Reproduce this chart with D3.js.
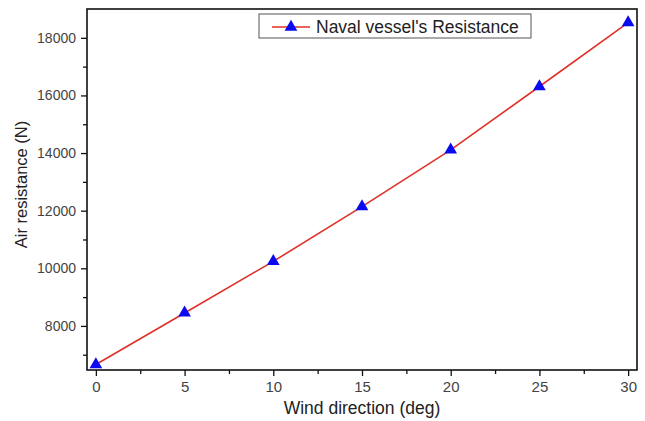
<!DOCTYPE html>
<html>
<head>
<meta charset="utf-8">
<script src="https://cdn.jsdelivr.net/npm/d3@7"></script>
<style>
  body { margin: 0; background: #fff; }
  text { font-family: "Liberation Sans", Arial, sans-serif; }
</style>
</head>
<body>
<svg width="645" height="421"></svg>
<script>
// wind direction (deg) and resistance (N)
const windDirection = [0, 5, 10, 15, 20, 25, 30];
const airResistance = [6660, 8450, 10240, 12140, 14110, 16310, 18530];
const xTicks = [0, 5, 10, 15, 20, 25, 30];
const yTicks = [8000, 10000, 12000, 14000, 16000, 18000];
const seriesName = "Naval vessel's Resistance";

const svg = d3.select('svg');
const margin = { top: 9, right: 8, bottom: 51, left: 87 };
const width = +svg.attr('width');
const height = +svg.attr('height');
const innerWidth = width - margin.left - margin.right;
const innerHeight = height - margin.top - margin.bottom;

const data = windDirection.map((d, i) => ({ x: d, y: airResistance[i] }));

const xScale = d3.scaleLinear().domain([-0.5, 30.5]).range([0, innerWidth]);
const yScale = d3.scaleLinear().domain([6470, 19000]).range([innerHeight, 0]);

const g = svg.append('g')
    .attr('transform', `translate(${margin.left},${margin.top})`);

// minor ticks (no labels)
const xMinor = d3.axisBottom(xScale).tickValues(d3.range(2.5, 30, 5)).tickSize(4);
const yMinor = d3.axisLeft(yScale).tickValues(d3.range(7000, 19000, 2000)).tickSize(4);
g.append('g').attr('transform', `translate(0,${innerHeight})`).call(xMinor)
    .selectAll('text').remove();
g.append('g').call(yMinor).selectAll('text').remove();

const xAxis = d3.axisBottom(xScale).tickValues(xTicks).tickSize(6).tickPadding(5);
const yAxis = d3.axisLeft(yScale).tickValues(yTicks).tickSize(6).tickPadding(5)
    .tickFormat(d3.format('d'));

g.append('g').attr('class', 'x-axis')
    .attr('transform', `translate(0,${innerHeight})`).call(xAxis)
    .selectAll('text').style('font-size', '15px');
g.append('g').attr('class', 'y-axis').call(yAxis)
    .selectAll('text').style('font-size', '14px');

g.selectAll('.domain').remove();
g.selectAll('.tick line').attr('stroke', '#111').attr('stroke-width', 1.3);
g.selectAll('.tick text').attr('fill', '#444');

// frame
g.append('rect')
    .attr('width', innerWidth).attr('height', innerHeight)
    .attr('fill', 'none').attr('stroke', '#111').attr('stroke-width', 1.6);

// series
const line = d3.line().x(d => xScale(d.x)).y(d => yScale(d.y));
g.append('path').datum(data)
    .attr('fill', 'none').attr('stroke', '#e0302a').attr('stroke-width', 1.6)
    .attr('d', line);

const tri = d3.symbol().type(d3.symbolTriangle).size(70);
g.selectAll('.pt').data(data).enter().append('path')
    .attr('class', 'pt')
    .attr('transform', d => `translate(${xScale(d.x)},${yScale(d.y)})`)
    .attr('d', tri)
    .attr('fill', '#0a0af0');

// legend
const lg = svg.append('g').attr('transform', 'translate(259,14)');
lg.append('rect').attr('width', 272).attr('height', 24)
    .attr('fill', '#fff').attr('stroke', '#555').attr('stroke-width', 1);
lg.append('line').attr('x1', 13).attr('x2', 51).attr('y1', 13).attr('y2', 13)
    .attr('stroke', '#e0302a').attr('stroke-width', 1.6);
lg.append('path').attr('transform', 'translate(32,13)').attr('d', tri).attr('fill', '#0a0af0');
lg.append('text').attr('x', 57).attr('y', 19)
    .style('font-size', '17.5px').attr('fill', '#222').text(seriesName);

// axis titles
svg.append('text')
    .attr('x', margin.left + xScale(15)).attr('y', 414)
    .attr('text-anchor', 'middle').style('font-size', '17.5px').attr('fill', '#222')
    .text('Wind direction (deg)');

svg.append('text')
    .attr('transform', `translate(27,${margin.top + innerHeight / 2 - 5}) rotate(-90)`)
    .attr('text-anchor', 'middle').style('font-size', '16.5px').attr('fill', '#222')
    .text('Air resistance (N)');
</script>
</body>
</html>
